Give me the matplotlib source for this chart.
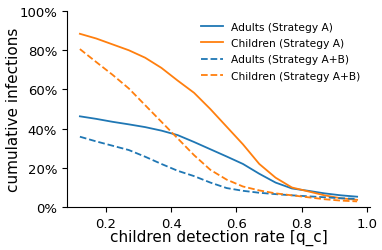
import matplotlib
matplotlib.use("Agg")
import matplotlib.pyplot as plt
from matplotlib.ticker import PercentFormatter

q_c = [0.12, 0.17, 0.22, 0.27, 0.32, 0.37, 0.42, 0.47, 0.52, 0.57,
       0.62, 0.67, 0.72, 0.77, 0.82, 0.87, 0.92, 0.97]
adults_A = [46.3, 45.0, 43.5, 42.2, 40.8, 39.0, 36.7, 33.2, 29.5, 25.8,
            22.0, 17.0, 12.5, 9.5, 8.3, 7.0, 6.0, 5.3]
children_A = [88.4, 86.0, 83.0, 80.0, 76.2, 71.0, 64.5, 58.3, 50.0, 41.0,
              32.0, 22.0, 15.0, 10.0, 8.0, 6.0, 4.5, 3.7]
adults_AB = [35.9, 33.5, 31.3, 29.1, 25.7, 22.0, 18.5, 15.8, 12.5, 9.7,
             8.3, 7.3, 6.6, 6.0, 5.5, 5.0, 4.5, 4.2]
children_AB = [80.6, 74.0, 67.5, 60.5, 52.0, 43.5, 35.0, 26.5, 19.0, 14.0,
               10.5, 8.5, 7.0, 6.0, 5.0, 4.0, 3.3, 2.9]

fig = plt.figure(figsize=(3.82, 2.51), dpi=100)
ax = fig.add_axes([0.175, 0.171, 0.794, 0.781])

ax.plot(q_c, [v / 100 for v in adults_A], color="#1f77b4", lw=1.3, label="Adults (Strategy A)")
ax.plot(q_c, [v / 100 for v in children_A], color="#ff7f0e", lw=1.3, label="Children (Strategy A)")
ax.plot(q_c, [v / 100 for v in adults_AB], color="#1f77b4", lw=1.3, ls="--", label="Adults (Strategy A+B)")
ax.plot(q_c, [v / 100 for v in children_AB], color="#ff7f0e", lw=1.3, ls="--", label="Children (Strategy A+B)")

ax.set_xlim(0.08, 1.01)
ax.set_ylim(0, 1.0)
ax.set_xticks([0.2, 0.4, 0.6, 0.8, 1.0])
ax.set_yticks([0, 0.2, 0.4, 0.6, 0.8, 1.0])
ax.yaxis.set_major_formatter(PercentFormatter(1.0, decimals=0))
ax.tick_params(labelsize=9.5)
ax.spines["top"].set_visible(False)
ax.spines["right"].set_visible(False)
ax.set_xlabel("children detection rate [q_c]", fontsize=11, labelpad=-1)
ax.set_ylabel("cumulative infections", fontsize=11, labelpad=-1.5)
ax.legend(frameon=False, fontsize=7.7, loc="upper right", bbox_to_anchor=(1.0, 0.995),
          handlelength=2.1, handletextpad=0.75, labelspacing=0.6)

fig.savefig("out.png", dpi=100)
